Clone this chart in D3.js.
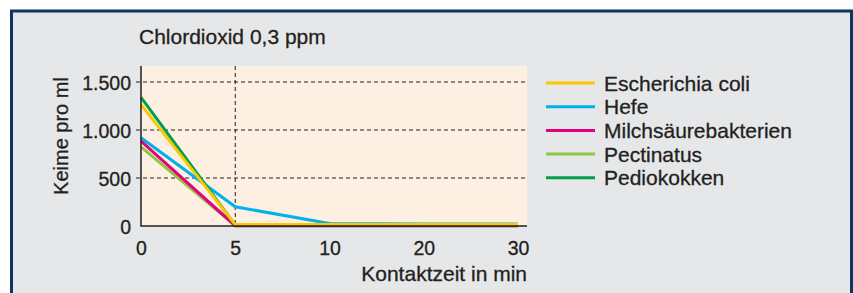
<!DOCTYPE html>
<html>
<head>
<meta charset="utf-8">
<script src="https://cdn.jsdelivr.net/npm/d3@7"></script>
<style>
  html, body { margin: 0; background: #fff; overflow: hidden; }
  svg { display: block; font-family: "Liberation Sans", Arial, sans-serif; }
</style>
</head>
<body>
<svg id="chart"></svg>
<script>
// data
const minutes = [0, 5, 10, 20, 30];
const yTicks = [0, 500, 1000, 1500];
const eColi = [1265, 15, 15, 15, 15];
const hefe = [920, 200, 25, 22, 22];
const milch = [885, 3, 3, 3, 3];
const pectinatus = [825, 2, 2, 2, 2];
const pedio = [1340, 8, 8, 8, 8];

const seriesNames = ["Escherichia coli", "Hefe", "Milchsäurebakterien", "Pectinatus", "Pediokokken"];
const seriesColors = ["#fdc800", "#00b2ec", "#e5007e", "#8dc641", "#00a14e"];
const seriesValues = [eColi, hefe, milch, pectinatus, pedio];
const drawOrder = [1, 3, 2, 4, 0];

const title = "Chlordioxid 0,3 ppm";
const xTitle = "Kontaktzeit in min";
const yTitle = "Keime pro ml";

const width = 853;
const height = 293;
const plot = { left: 141, right: 527, top: 66, bottom: 226 };
const textColor = "#231f20";

const de = d3.formatLocale({ decimal: ",", thousands: ".", grouping: [3], currency: ["", " €"] });

const svg = d3.select("#chart")
  .attr("width", width)
  .attr("height", height);

// frame
svg.append("rect")
  .attr("x", 11.5).attr("y", 11)
  .attr("width", width - 13).attr("height", height + 10)
  .attr("fill", "#e6e7e9")
  .attr("stroke", "#0c3663")
  .attr("stroke-width", 3);

// scales
const x = d3.scalePoint()
  .domain(minutes)
  .range([plot.left, 518]);

const y = d3.scaleLinear()
  .domain([0, 1500])
  .range([plot.bottom, 82]);

// plot background
svg.append("rect")
  .attr("x", plot.left).attr("y", plot.top)
  .attr("width", plot.right - plot.left)
  .attr("height", plot.bottom - plot.top)
  .attr("fill", "#fdefe2");

// grid
svg.append("g")
  .selectAll("line")
  .data(yTicks.filter(d => d > 0))
  .enter().append("line")
    .attr("x1", plot.left - 5).attr("x2", plot.right)
    .attr("y1", d => y(d)).attr("y2", d => y(d))
    .attr("stroke", textColor)
    .attr("stroke-width", 1)
    .attr("stroke-dasharray", "4,3");

svg.append("line")
  .attr("x1", x(5)).attr("x2", x(5))
  .attr("y1", plot.top).attr("y2", plot.bottom)
  .attr("stroke", textColor)
  .attr("stroke-width", 1)
  .attr("stroke-dasharray", "4,3");

// lines
const line = d3.line()
  .x((d, i) => x(minutes[i]))
  .y(d => y(d));

svg.append("g")
  .selectAll("path")
  .data(drawOrder)
  .enter().append("path")
    .attr("d", i => line(seriesValues[i]))
    .attr("fill", "none")
    .attr("stroke", i => seriesColors[i])
    .attr("stroke-width", 3)
    .attr("stroke-linejoin", "miter");

// axes
const xAxis = d3.axisBottom(x).tickSize(0).tickPadding(15);
const yAxis = d3.axisLeft(y)
  .tickValues(yTicks)
  .tickFormat(de.format(","))
  .tickSize(0)
  .tickPadding(10);

const gx = svg.append("g")
  .attr("transform", `translate(0,${plot.bottom})`)
  .call(xAxis);
gx.select(".domain").remove();
gx.selectAll("text")
  .attr("fill", textColor)
  .attr("stroke", textColor)
  .attr("stroke-width", 0.3)
  .style("font-size", "19.5px");

const gy = svg.append("g")
  .attr("transform", `translate(${plot.left},0)`)
  .call(yAxis);
gy.select(".domain").remove();
gy.selectAll("text")
  .attr("fill", textColor)
  .attr("stroke", textColor)
  .attr("stroke-width", 0.3)
  .attr("dy", "0.36em")
  .style("font-size", "19.5px");

// axis lines
svg.append("path")
  .attr("d", `M${plot.left},${plot.top}V${plot.bottom}H${plot.right}`)
  .attr("fill", "none")
  .attr("stroke", textColor)
  .attr("stroke-width", 1.5);

// titles
const label = (xPos, yPos, size, txt) => svg.append("text")
  .attr("x", xPos).attr("y", yPos)
  .attr("fill", textColor)
  .attr("stroke", textColor)
  .attr("stroke-width", 0.3)
  .style("font-size", size)
  .text(txt);

label(139, 44, "21px", title);
label(plot.right, 281, "21px", xTitle).attr("text-anchor", "end");
label(0, 0, "20px", yTitle)
  .attr("transform", "translate(68,136) rotate(-90)")
  .attr("text-anchor", "middle");

// legend
const legend = svg.append("g")
  .selectAll("g")
  .data(seriesNames)
  .enter().append("g")
    .attr("transform", (d, i) => `translate(546,${83 + i * 23.7})`);

legend.append("line")
  .attr("x1", 0).attr("x2", 49)
  .attr("stroke", (d, i) => seriesColors[i])
  .attr("stroke-width", 3);

legend.append("text")
  .attr("x", 58).attr("y", 7.5)
  .attr("fill", textColor)
  .attr("stroke", textColor)
  .attr("stroke-width", 0.3)
  .style("font-size", "21px")
  .text(d => d);
</script>
</body>
</html>
